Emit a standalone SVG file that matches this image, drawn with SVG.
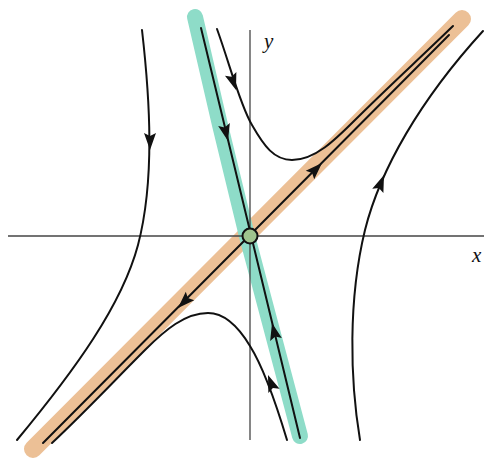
<svg xmlns="http://www.w3.org/2000/svg" xmlns:xlink="http://www.w3.org/1999/xlink" width="487" height="460" viewBox="0 0 487 460">
<style>
.band{fill:none;stroke-linecap:round;stroke-linejoin:round}
.axis{stroke:#444;stroke-width:1.3;fill:none}
.traj{fill:none;stroke:#111;stroke-width:2;stroke-linecap:round}
.lbl{font-family:"Liberation Serif","DejaVu Serif",serif;font-style:italic;font-size:21px;fill:#111}
</style>
<defs>
<path id="ah" d="M0,0 L-17,-6 L-14,0 L-17,6 Z" fill="#111"/>
</defs>
<rect width="487" height="460" fill="#fff"/>
<g id="bands">
<path class="band" d="M33,449 L462,19" stroke="#ecc096" stroke-width="18"/>
<path class="band" d="M195,17 L220,125 L247,236 L300,436" stroke="#8edcc8" stroke-width="16"/>
</g>
<g id="axes">
<line class="axis" x1="8" y1="236" x2="484" y2="236"/>
<line class="axis" x1="250" y1="30" x2="250" y2="440"/>
<text class="lbl" x="264" y="48">y</text>
<text class="lbl" x="472" y="262">x</text>
</g>
<g id="connectors">
<path class="traj" d="M43,443 L449,35"/>
<path class="traj" d="M201,28 L300,438"/>
<path class="traj" d="M142,30 C150,100 155,180 138,245 C122,305 75,370 17,440"/>
<path class="traj" d="M360,440 C350,380 348,300 365,230 C380,170 420,100 483,31"/>
<path class="traj" d="M217,29 C230,65 240,105 252,125 C264,146 274,160 292,160 C315,160 335,140 355,120 C385,90 420,58 453,26"/>
<path class="traj" d="M287,440 C278,410 265,370 250,346 C238,326 225,313 208,313 C185,313 165,330 145,350 C115,380 85,412 52,443"/>
<use xlink:href="#ah" transform="translate(150,150) rotate(90)"/>
<use xlink:href="#ah" transform="translate(236,90) rotate(71.7)"/>
<use xlink:href="#ah" transform="translate(228,141) rotate(76.4)"/>
<use xlink:href="#ah" transform="translate(272,323) rotate(256.4)"/>
<use xlink:href="#ah" transform="translate(268,375) rotate(249.5)"/>
<use xlink:href="#ah" transform="translate(384,175) rotate(-68.6)"/>
<use xlink:href="#ah" transform="translate(322,163) rotate(-45)"/>
<use xlink:href="#ah" transform="translate(178,308) rotate(135)"/>
</g>
<g id="saddle">
<circle cx="250" cy="236" r="7.5" fill="#9fc48e" stroke="#111" stroke-width="2"/>
</g>
</svg>
